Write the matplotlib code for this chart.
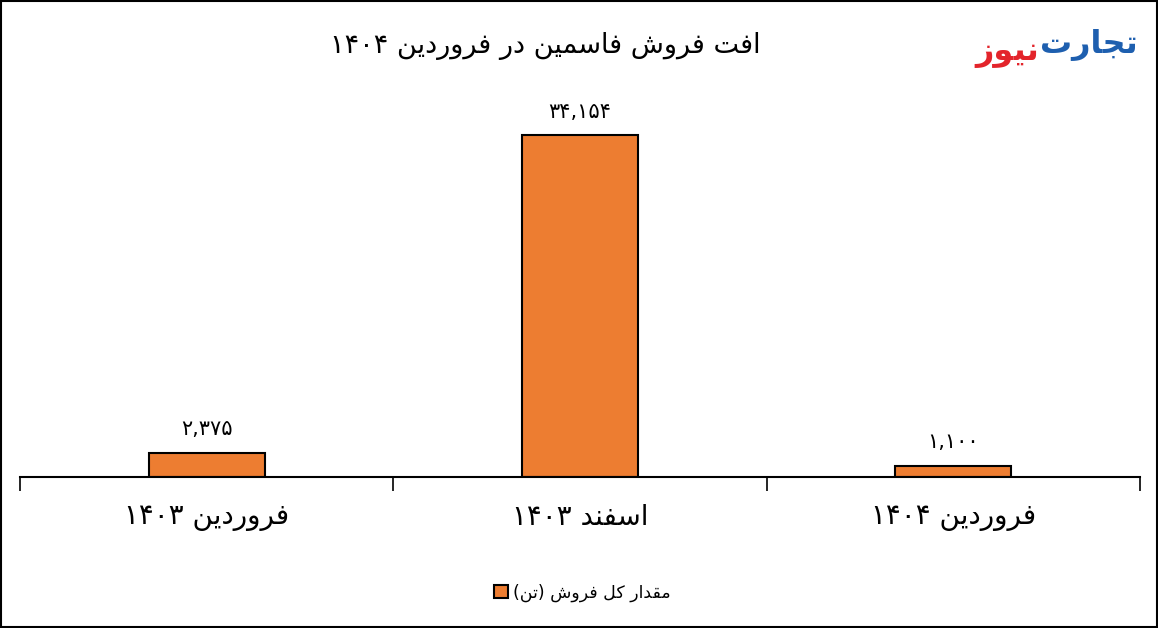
import matplotlib.pyplot as plt
from matplotlib.patches import Rectangle

# داده ها
categories = ['فروردین ۱۴۰۳', 'اسفند ۱۴۰۳', 'فروردین ۱۴۰۴']
values = [2375, 34154, 1100]
title = 'افت فروش فاسمین در فروردین ۱۴۰۴'
series_name = 'مقدار کل فروش (تن)'

# حروف: (منفصل، پایانی، آغازی، میانی)
FORMS = {
    'ا': ('\uFE8D', '\uFE8E', None, None),
    'ب': ('\uFE8F', '\uFE90', '\uFE91', '\uFE92'),
    'ت': ('\uFE95', '\uFE96', '\uFE97', '\uFE98'),
    'ج': ('\uFE9D', '\uFE9E', '\uFE9F', '\uFEA0'),
    'د': ('\uFEA9', '\uFEAA', None, None),
    'ر': ('\uFEAD', '\uFEAE', None, None),
    'ز': ('\uFEAF', '\uFEB0', None, None),
    'س': ('\uFEB1', '\uFEB2', '\uFEB3', '\uFEB4'),
    'ش': ('\uFEB5', '\uFEB6', '\uFEB7', '\uFEB8'),
    'ف': ('\uFED1', '\uFED2', '\uFED3', '\uFED4'),
    'ق': ('\uFED5', '\uFED6', '\uFED7', '\uFED8'),
    'ک': ('\uFED9', '\uFEDA', '\uFEDB', '\uFEDC'),
    'ل': ('\uFEDD', '\uFEDE', '\uFEDF', '\uFEE0'),
    'م': ('\uFEE1', '\uFEE2', '\uFEE3', '\uFEE4'),
    'ن': ('\uFEE5', '\uFEE6', '\uFEE7', '\uFEE8'),
    'و': ('\uFEED', '\uFEEE', None, None),
    'ی': ('\uFEEF', '\uFEF0', '\uFEF3', '\uFEF4'),
}
DIGITS = set('۰۱۲۳۴۵۶۷۸۹0123456789,')


def fa(s):
    # شکل دادن حروف و ترتیب دیداری برای متن راست به چپ
    out = []
    for i, c in enumerate(s):
        if c not in FORMS:
            out.append(c)
            continue
        prev = s[i - 1] if i > 0 else None
        nxt = s[i + 1] if i + 1 < len(s) else None
        jp = prev in FORMS and FORMS[prev][2] is not None
        jn = nxt in FORMS and FORMS[c][2] is not None
        iso, fin, ini, med = FORMS[c]
        if jp and jn:
            out.append(med)
        elif jp:
            out.append(fin)
        elif jn:
            out.append(ini)
        else:
            out.append(iso)
    out = out[::-1]
    out = [{'(': ')', ')': '('}.get(c, c) for c in out]
    res, run = [], []
    for c in out:
        if c in DIGITS:
            run.append(c)
        else:
            res.extend(run[::-1])
            run = []
            res.append(c)
    res.extend(run[::-1])
    return ''.join(res)


def fa_num(v):
    return f'{v:,}'.translate(str.maketrans('0123456789', '۰۱۲۳۴۵۶۷۸۹'))


plt.rcParams['font.family'] = ['DejaVu Sans']

fig = plt.figure(figsize=(11.58, 6.28), dpi=100)
ax = fig.add_axes([20 / 1158, 1 - 477 / 628, 1120 / 1158, 400 / 628])

x = range(len(values))
bars = ax.bar(x, values, width=0.31, color='#ED7D31', edgecolor='black',
              linewidth=1.5, label=fa(series_name))
for b, v in zip(bars, values):
    ax.annotate(fa_num(v), (b.get_x() + b.get_width() / 2, v), xytext=(0, 10),
                textcoords='offset points', ha='center', va='bottom', fontsize=15)

ax.set_xlim(-0.5, len(values) - 0.5)
ax.set_ylim(0, 40000)
ax.set_yticks([])
ax.set_xticks(list(x))
ax.set_xticklabels([fa(c) for c in categories], fontsize=20)
ax.set_xticks([i - 0.5 for i in range(len(values) + 1)], minor=True)
ax.tick_params(axis='x', which='major', length=0, pad=19)
ax.tick_params(axis='x', which='minor', length=10, width=1.2, direction='out')
for s in ['top', 'left', 'right']:
    ax.spines[s].set_visible(False)
ax.spines['bottom'].set_linewidth(1.5)

fig.text(545 / 1158, 1 - 46 / 628, fa(title), ha='center', va='center', fontsize=19.5)

# لوگو
blue = fig.text(1138 / 1158, 1 - 45 / 628, fa('تجارت'), ha='right', va='center',
                fontsize=23, fontweight='bold', color='#1E5FAF')
fig.canvas.draw()
bb = blue.get_window_extent()
fig.text((bb.x0 - 1) / 1158, 1 - 52 / 628, fa('نیوز'), ha='right', va='center',
         fontsize=23, fontweight='bold', color='#E3242B')

fig.legend(loc='center', bbox_to_anchor=(582 / 1158, 1 - 593 / 628), frameon=False,
           fontsize=12.5, handlelength=0.8, handleheight=0.8, handletextpad=0.3)

fig.add_artist(Rectangle((0.001, 0.002), 0.998, 0.996, transform=fig.transFigure,
                         fill=False, edgecolor='black', linewidth=1.5))

fig.savefig('out.png', dpi=100)
